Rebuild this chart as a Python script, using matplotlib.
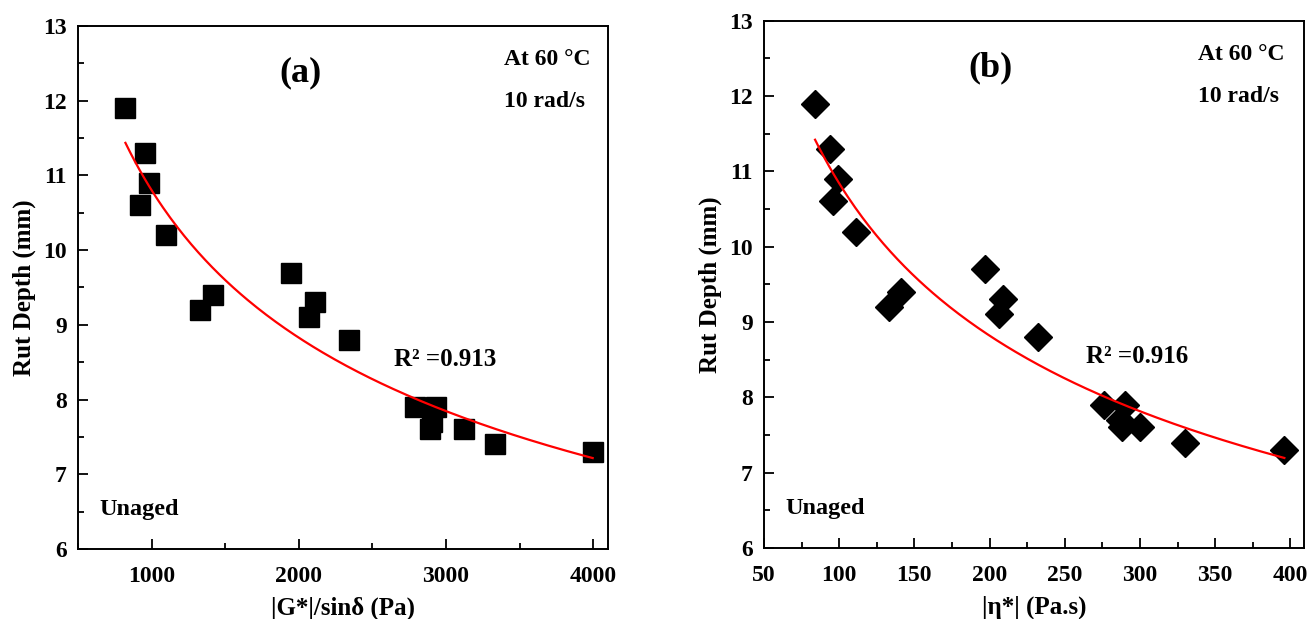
import numpy as np
import matplotlib
matplotlib.use('Agg')
import matplotlib.pyplot as plt
from matplotlib.ticker import MultipleLocator

plt.rcParams['font.family'] = ['Liberation Serif', 'DejaVu Serif']
plt.rcParams['font.weight'] = 'bold'

# rut depth (mm), same samples in both panels
rut = [11.9, 11.3, 10.9, 10.6, 10.2, 9.2, 9.4, 9.7, 9.1, 9.3, 8.8,
       7.9, 7.9, 7.7, 7.6, 7.6, 7.4, 7.3]
# |G*|/sin(delta) (Pa)
g_sin = [822, 952, 979, 920, 1098, 1326, 1414, 1948, 2067, 2112, 2339,
         2792, 2931, 2905, 2893, 3120, 3334, 3996]
# |eta*| (Pa.s)
eta = [84, 94, 99, 96, 111, 133, 141, 197, 206, 209, 232,
       276, 290, 287, 288, 300, 330, 396]

r2_a = 0.913
r2_b = 0.916


def power_fit(x, y):
    # y = a * x^b, fitted in log space
    b, loga = np.polyfit(np.log(x), np.log(y), 1)
    xs = np.linspace(min(x), max(x), 200)
    return xs, np.exp(loga) * xs ** b


def style_axes(ax):
    for s in ax.spines.values():
        s.set_linewidth(1.4)
    ax.tick_params(which='both', direction='in', top=False, right=False,
                   labelsize=17, width=1.3)
    ax.tick_params(which='major', length=7)
    ax.tick_params(which='minor', length=4)
    ax.tick_params(axis='x', which='both', pad=12)
    ax.tick_params(axis='y', which='both', pad=8)
    ax.set_ylim(6, 13)
    ax.yaxis.set_major_locator(MultipleLocator(1))
    ax.yaxis.set_minor_locator(MultipleLocator(0.5))
    ax.set_ylabel('Rut Depth (mm)', fontsize=18, fontweight='bold', labelpad=5)


fig = plt.figure(figsize=(13.16, 6.19), dpi=100)
ax1 = fig.add_axes([0.0593, 0.1131, 0.4027, 0.8449])
ax2 = fig.add_axes([0.5805, 0.1147, 0.4103, 0.8519])

# (a)
ax1.plot(g_sin, rut, 's', color='black', markersize=14.5)
xs, ys = power_fit(g_sin, rut)
ax1.plot(xs, ys, color='red', lw=1.6)
ax1.set_xlim(500, 4100)
ax1.xaxis.set_major_locator(MultipleLocator(1000))
ax1.xaxis.set_minor_locator(MultipleLocator(500))
style_axes(ax1)
ax1.set_xlabel('|G*|/sinδ (Pa)', fontsize=18, fontweight='bold', labelpad=7)

# (b)
ax2.plot(eta, rut, 'D', color='black', markersize=14.5)
xs, ys = power_fit(eta, rut)
ax2.plot(xs, ys, color='red', lw=1.6)
ax2.set_xlim(50, 409)
ax2.xaxis.set_major_locator(MultipleLocator(50))
ax2.xaxis.set_minor_locator(MultipleLocator(25))
style_axes(ax2)
ax2.set_xlabel('|η*| (Pa.s)', fontsize=18, fontweight='bold', labelpad=7)

for ax, tag, r2 in [(ax1, '(a)', r2_a), (ax2, '(b)', r2_b)]:
    ax.text(0.42, 0.91, tag, transform=ax.transAxes, fontsize=26,
            fontweight='bold', ha='center', va='center')
    ax.text(0.804, 0.935, 'At 60 °C', transform=ax.transAxes, fontsize=17,
            fontweight='bold', ha='left', va='center')
    ax.text(0.804, 0.856, '10 rad/s', transform=ax.transAxes, fontsize=17,
            fontweight='bold', ha='left', va='center')
    ax.text(0.597, 0.363, 'R² =%.3f' % r2, transform=ax.transAxes,
            fontsize=18, fontweight='bold', ha='left', va='center')
    ax.text(0.04, 0.075, 'Unaged', transform=ax.transAxes, fontsize=17.5,
            fontweight='bold', ha='left', va='center')

fig.savefig('out.png', dpi=100)
